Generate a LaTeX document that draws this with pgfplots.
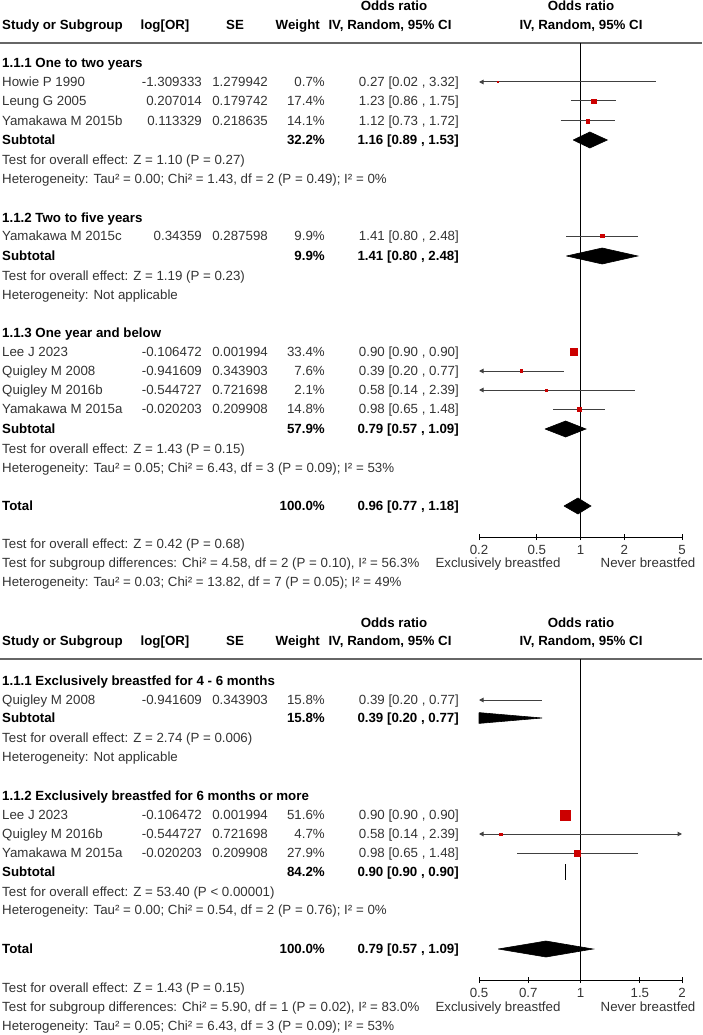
\documentclass[border=0pt]{standalone}
\usepackage{fontspec}
\setmainfont{Liberation Sans}
\usepackage{pgfplots}
\pgfplotsset{compat=1.18}
\usetikzlibrary{arrows.meta}
\definecolor{txt}{HTML}{333333}
\definecolor{mk}{HTML}{CC0000}
\definecolor{ci}{HTML}{404040}
\definecolor{rulec}{HTML}{666666}
\tikzset{
  myci/.style={ci, line width=1pt},
  myla/.style={arrows={Triangle[length=4.5pt,width=4.5pt]-}},
  myra/.style={arrows={-Triangle[length=4.5pt,width=4.5pt]}},
  mylr/.style={arrows={Triangle[length=4.5pt,width=4.5pt]-Triangle[length=4.5pt,width=4.5pt]}},
  mydia/.style={fill=black, draw=black, line width=0.6pt}}
\pgfplotsset{mysq/.style={only marks, mark=square*, mark options={fill=mk, draw=mk}}}
\begin{document}
\fontsize{13.3pt}{16pt}\selectfont
\begin{tikzpicture}[
  t/.style={anchor=west,inner sep=0pt,text height=9.5pt,text depth=0pt,text=txt},
  r/.style={t,anchor=east},
  c/.style={t,anchor=center},
  h/.style={font=\bfseries,text=black}]
\useasboundingbox (0pt,0pt) rectangle (702pt,-1035pt);
\begin{scope}[x=1pt,y=-1pt]
% ---------- top panel ----------
\node[c,h] at (394,6) {Odds ratio};
\node[c,h] at (581,6) {Odds ratio};
\node[t,h] at (2,25) {Study or Subgroup};
\node[c,h] at (165,25) {log[OR]};
\node[c,h] at (235,25) {SE};
\node[r,h] at (320,25) {Weight};
\node[c,h] at (390,25) {IV, Random, 95\% CI};
\node[c,h] at (581,25) {IV, Random, 95\% CI};
\draw[rulec, line width=2pt] (0,43) -- (702,43);

\node[t,h] at (2,63) {1.1.1 One to two years};
\node[t] at (2,82) {Howie P 1990}; \node[r] at (202,82) {-1.309333}; \node[r] at (268,82) {1.279942}; \node[r] at (325,82) {0.7\%}; \node[r] at (459,82) {0.27 [0.02 , 3.32]};
\node[t] at (2,101) {Leung G 2005}; \node[r] at (202,101) {0.207014}; \node[r] at (268,101) {0.179742}; \node[r] at (325,101) {17.4\%}; \node[r] at (459,101) {1.23 [0.86 , 1.75]};
\node[t] at (2,121) {Yamakawa M 2015b}; \node[r] at (202,121) {0.113329}; \node[r] at (268,121) {0.218635}; \node[r] at (325,121) {14.1\%}; \node[r] at (459,121) {1.12 [0.73 , 1.72]};
\node[t,h] at (2,140) {Subtotal}; \node[r,h] at (325,140) {32.2\%}; \node[r,h] at (459,140) {1.16 [0.89 , 1.53]};
\node[t] at (2,160) {Test for overall effect: Z = 1.10 (P = 0.27)};
\node[t] at (2,179) {Heterogeneity: Tau² = 0.00; Chi² = 1.43, df = 2 (P = 0.49); I² = 0\%};

\node[t,h] at (2,218) {1.1.2 Two to five years};
\node[t] at (2,236) {Yamakawa M 2015c}; \node[r] at (202,236) {0.34359}; \node[r] at (268,236) {0.287598}; \node[r] at (325,236) {9.9\%}; \node[r] at (459,236) {1.41 [0.80 , 2.48]};
\node[t,h] at (2,256) {Subtotal}; \node[r,h] at (325,256) {9.9\%}; \node[r,h] at (459,256) {1.41 [0.80 , 2.48]};
\node[t] at (2,276) {Test for overall effect: Z = 1.19 (P = 0.23)};
\node[t] at (2,295) {Heterogeneity: Not applicable};

\node[t,h] at (2,333) {1.1.3 One year and below};
\node[t] at (2,352) {Lee J 2023}; \node[r] at (202,352) {-0.106472}; \node[r] at (268,352) {0.001994}; \node[r] at (325,352) {33.4\%}; \node[r] at (459,352) {0.90 [0.90 , 0.90]};
\node[t] at (2,371) {Quigley M 2008}; \node[r] at (202,371) {-0.941609}; \node[r] at (268,371) {0.343903}; \node[r] at (325,371) {7.6\%}; \node[r] at (459,371) {0.39 [0.20 , 0.77]};
\node[t] at (2,390) {Quigley M 2016b}; \node[r] at (202,390) {-0.544727}; \node[r] at (268,390) {0.721698}; \node[r] at (325,390) {2.1\%}; \node[r] at (459,390) {0.58 [0.14 , 2.39]};
\node[t] at (2,409) {Yamakawa M 2015a}; \node[r] at (202,409) {-0.020203}; \node[r] at (268,409) {0.209908}; \node[r] at (325,409) {14.8\%}; \node[r] at (459,409) {0.98 [0.65 , 1.48]};
\node[t,h] at (2,429) {Subtotal}; \node[r,h] at (325,429) {57.9\%}; \node[r,h] at (459,429) {0.79 [0.57 , 1.09]};
\node[t] at (2,449) {Test for overall effect: Z = 1.43 (P = 0.15)};
\node[t] at (2,468) {Heterogeneity: Tau² = 0.05; Chi² = 6.43, df = 3 (P = 0.09); I² = 53\%};

\node[t,h] at (2,506) {Total}; \node[r,h] at (325,506) {100.0\%}; \node[r,h] at (459,506) {0.96 [0.77 , 1.18]};
\node[t] at (2,544) {Test for overall effect: Z = 0.42 (P = 0.68)};
\node[t] at (2,563) {Test for subgroup differences: Chi² = 4.58, df = 2 (P = 0.10), I² = 56.3\%};
\node[t] at (2,582) {Heterogeneity: Tau² = 0.03; Chi² = 13.82, df = 7 (P = 0.05); I² = 49\%};
\node[c] at (498,563) {Exclusively breastfed};
\node[c] at (648,563) {Never breastfed};

% ---------- bottom panel ----------
\node[c,h] at (394,623) {Odds ratio};
\node[c,h] at (581,623) {Odds ratio};
\node[t,h] at (2,641) {Study or Subgroup};
\node[c,h] at (165,641) {log[OR]};
\node[c,h] at (235,641) {SE};
\node[r,h] at (320,641) {Weight};
\node[c,h] at (390,641) {IV, Random, 95\% CI};
\node[c,h] at (581,641) {IV, Random, 95\% CI};
\draw[rulec, line width=2pt] (0,659) -- (702,659);

\node[t,h] at (2,681) {1.1.1 Exclusively breastfed for 4 - 6 months};
\node[t] at (2,700) {Quigley M 2008}; \node[r] at (202,700) {-0.941609}; \node[r] at (268,700) {0.343903}; \node[r] at (325,700) {15.8\%}; \node[r] at (459,700) {0.39 [0.20 , 0.77]};
\node[t,h] at (2,718) {Subtotal}; \node[r,h] at (325,718) {15.8\%}; \node[r,h] at (459,718) {0.39 [0.20 , 0.77]};
\node[t] at (2,738) {Test for overall effect: Z = 2.74 (P = 0.006)};
\node[t] at (2,757) {Heterogeneity: Not applicable};

\node[t,h] at (2,796) {1.1.2 Exclusively breastfed for 6 months or more};
\node[t] at (2,815) {Lee J 2023}; \node[r] at (202,815) {-0.106472}; \node[r] at (268,815) {0.001994}; \node[r] at (325,815) {51.6\%}; \node[r] at (459,815) {0.90 [0.90 , 0.90]};
\node[t] at (2,834) {Quigley M 2016b}; \node[r] at (202,834) {-0.544727}; \node[r] at (268,834) {0.721698}; \node[r] at (325,834) {4.7\%}; \node[r] at (459,834) {0.58 [0.14 , 2.39]};
\node[t] at (2,853) {Yamakawa M 2015a}; \node[r] at (202,853) {-0.020203}; \node[r] at (268,853) {0.209908}; \node[r] at (325,853) {27.9\%}; \node[r] at (459,853) {0.98 [0.65 , 1.48]};
\node[t,h] at (2,872) {Subtotal}; \node[r,h] at (325,872) {84.2\%}; \node[r,h] at (459,872) {0.90 [0.90 , 0.90]};
\node[t] at (2,892) {Test for overall effect: Z = 53.40 (P < 0.00001)};
\node[t] at (2,910) {Heterogeneity: Tau² = 0.00; Chi² = 0.54, df = 2 (P = 0.76); I² = 0\%};

\node[t,h] at (2,949) {Total}; \node[r,h] at (325,949) {100.0\%}; \node[r,h] at (459,949) {0.79 [0.57 , 1.09]};
\node[t] at (2,988) {Test for overall effect: Z = 1.43 (P = 0.15)};
\node[t] at (2,1007) {Test for subgroup differences: Chi² = 5.90, df = 1 (P = 0.02), I² = 83.0\%};
\node[t] at (2,1026) {Heterogeneity: Tau² = 0.05; Chi² = 6.43, df = 3 (P = 0.09); I² = 53\%};
\node[c] at (498,1007) {Exclusively breastfed};
\node[c] at (648,1007) {Never breastfed};
\end{scope}

% ---------- top forest axis ----------
\begin{axis}[scale only axis, width=203pt, height=494pt, xmode=log, clip=false,
  at={(479pt,-537pt)}, anchor=south west,
  axis x line*=bottom, axis y line=none, tick align=center, major tick length=6pt,
  minor xtick={}, x axis line style={line width=1pt,black}, xtick style={black,line width=1pt},
  xticklabel style={font=\fontsize{13.3pt}{16pt}\selectfont, text=txt, inner sep=0pt,
    anchor=center, yshift=-9.5pt, text height=9.5pt, text depth=0pt},
  xmin=0.2, xmax=5, ymin=-537, ymax=-43,
  xtick={0.2,0.5,1,2,5}, xticklabels={0.2,0.5,1,2,5}]
\addplot[black, line width=1pt, mark=none] coordinates {(1,-43) (1,-537)};
% 1.1.1
\addplot[myci, myla, mark=none] coordinates {(0.2,-82) (3.32,-82)};
\addplot[mysq, mark size=0.6pt] coordinates {(0.27,-82)};
\addplot[myci, mark=none] coordinates {(0.86,-101) (1.75,-101)};
\addplot[mysq, mark size=2.2pt] coordinates {(1.23,-101)};
\addplot[myci, mark=none] coordinates {(0.73,-121) (1.72,-121)};
\addplot[mysq, mark size=1.8pt] coordinates {(1.12,-121)};
\addplot[mydia, mark=none] coordinates {(0.89,-140) (1.16,-132) (1.53,-140) (1.16,-148) (0.89,-140)};
% 1.1.2
\addplot[myci, mark=none] coordinates {(0.80,-236) (2.48,-236)};
\addplot[mysq, mark size=1.6pt] coordinates {(1.41,-236)};
\addplot[mydia, mark=none] coordinates {(0.80,-256) (1.41,-248) (2.48,-256) (1.41,-264) (0.80,-256)};
% 1.1.3
\addplot[mysq, mark size=3.5pt] coordinates {(0.90,-352)};
\addplot[myci, myla, mark=none] coordinates {(0.2,-371) (0.77,-371)};
\addplot[mysq, mark size=1.4pt] coordinates {(0.39,-371)};
\addplot[myci, myla, mark=none] coordinates {(0.2,-390) (2.39,-390)};
\addplot[mysq, mark size=0.8pt] coordinates {(0.58,-390)};
\addplot[myci, mark=none] coordinates {(0.65,-409) (1.48,-409)};
\addplot[mysq, mark size=1.8pt] coordinates {(0.98,-409)};
\addplot[mydia, mark=none] coordinates {(0.57,-429) (0.79,-421) (1.09,-429) (0.79,-437) (0.57,-429)};
% total
\addplot[mydia, mark=none] coordinates {(0.77,-506) (0.96,-498) (1.18,-506) (0.96,-514) (0.77,-506)};
\end{axis}

% ---------- bottom forest axis ----------
\begin{axis}[scale only axis, width=203pt, height=321pt, xmode=log, clip=false,
  at={(479pt,-980pt)}, anchor=south west,
  axis x line*=bottom, axis y line=none, tick align=center, major tick length=6pt,
  minor xtick={}, x axis line style={line width=1pt,black}, xtick style={black,line width=1pt},
  xticklabel style={font=\fontsize{13.3pt}{16pt}\selectfont, text=txt, inner sep=0pt,
    anchor=center, yshift=-9.5pt, text height=9.5pt, text depth=0pt},
  xmin=0.5, xmax=2, ymin=-980, ymax=-659,
  xtick={0.5,0.7,1,1.5,2}, xticklabels={0.5,0.7,1,1.5,2}]
\addplot[black, line width=1pt, mark=none] coordinates {(1,-659) (1,-980)};
% 1.1.1
\addplot[myci, myla, mark=none] coordinates {(0.5,-700) (0.77,-700)};
\addplot[mydia, mark=none] coordinates {(0.5,-712.6) (0.77,-718) (0.5,-723.4) (0.5,-712.6)};
% 1.1.2
\addplot[mysq, mark size=5pt] coordinates {(0.90,-815)};
\addplot[myci, mylr, mark=none] coordinates {(0.5,-834) (2,-834)};
\addplot[mysq, mark size=1.1pt] coordinates {(0.58,-834)};
\addplot[myci, mark=none] coordinates {(0.65,-853) (1.48,-853)};
\addplot[mysq, mark size=2.9pt] coordinates {(0.98,-853)};
\addplot[black, line width=1pt, mark=none] coordinates {(0.90,-864) (0.90,-880)};
% total
\addplot[mydia, mark=none] coordinates {(0.57,-949) (0.79,-941) (1.09,-949) (0.79,-957) (0.57,-949)};
\end{axis}
\end{tikzpicture}
\end{document}
